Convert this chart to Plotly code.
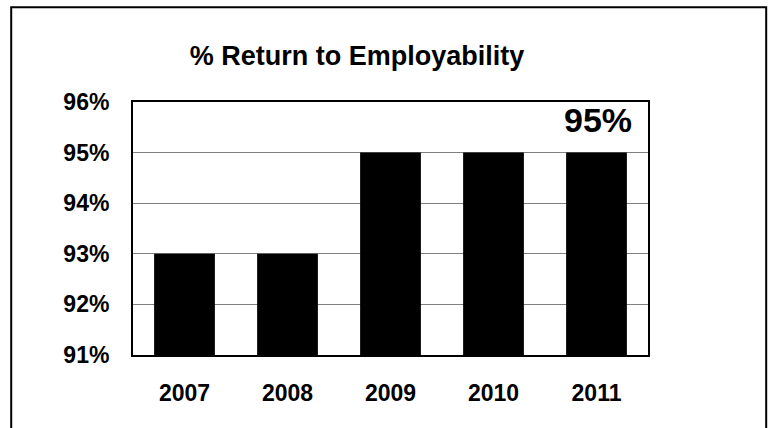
import plotly.graph_objects as go

# Data
years = ["2007", "2008", "2009", "2010", "2011"]
return_pct = [93, 93, 95, 95, 95]
y_ticks = [91, 92, 93, 94, 95, 96]
y_tick_labels = ["91%", "92%", "93%", "94%", "95%", "96%"]

FONT = "Arial, Liberation Sans, sans-serif"

fig = go.Figure(
    go.Bar(
        x=years,
        y=return_pct,
        marker=dict(color="black", line=dict(width=0)),
        hoverinfo="skip",
    )
)

# Outer frame around the chart (open at the bottom edge)
fig.add_shape(
    type="rect", xref="paper", yref="paper",
    x0=-0.2365, x1=1.2295, y0=-0.40, y1=1.375,
    line=dict(color="black", width=2), fillcolor="rgba(0,0,0,0)",
    layer="below",
)

# Value label for the latest year
fig.add_annotation(
    x=len(years) - 1, y=return_pct[-1],
    text=f"{return_pct[-1]}%",
    showarrow=False, yanchor="middle", yshift=33, xshift=1,
    font=dict(family=FONT, size=34, color="black", weight="bold"),
)

fig.update_layout(
    width=775, height=428,
    margin=dict(l=133, r=127, t=102, b=73),
    paper_bgcolor="white", plot_bgcolor="white",
    showlegend=False,
    bargap=0.41,
    title=dict(
        text="<b>% Return to Employability</b>",
        x=357 / 775, xanchor="center", xref="container",
        y=1 - 56 / 428, yanchor="middle", yref="container",
        font=dict(family=FONT, size=27, color="black"),
    ),
    font=dict(family=FONT, color="black"),
)

fig.update_xaxes(
    type="category", categoryorder="array", categoryarray=years,
    range=[-0.5, len(years) - 0.5],
    showline=True, linecolor="black", linewidth=2, mirror=True,
    showgrid=False, ticks="", ticklabelstandoff=16,
    tickfont=dict(family=FONT, size=23, color="black", weight="bold"),
)
fig.update_yaxes(
    range=[91, 96],
    tickvals=y_ticks, ticktext=y_tick_labels,
    showline=True, linecolor="black", linewidth=2, mirror=True,
    showgrid=True, gridcolor="#808080", gridwidth=1,
    zeroline=False, ticks="", ticklabelstandoff=17,
    tickfont=dict(family=FONT, size=23, color="black", weight="bold"),
)

fig.write_html("out.html")
